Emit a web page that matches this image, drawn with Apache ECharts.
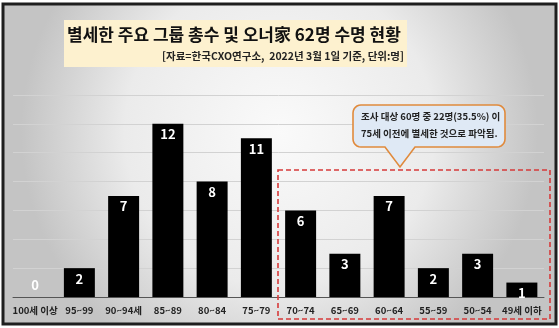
<!DOCTYPE html>
<html><head><meta charset="utf-8">
<script src="https://cdn.jsdelivr.net/npm/echarts@6/dist/echarts.min.js"></script>
<style>html,body{margin:0;padding:0;background:#fff}#c{width:559px;height:328px}</style>
</head><body><div id="c"></div>
<script>
const categories = ['100세 이상','95~99','90~94세','85~89','80~84','75~79','70~74','65~69','60~64','55~59','50~54','49세 이하'];
const counts = [0,2,7,12,8,11,6,3,7,2,3,1];
const yTicks = [0,2,4,6,8,10,12,14];
const titleText = '별세한 주요 그룹 총수 및 오너家 62명 수명 현황';
const subtitleText = '[자료=한국CXO연구소,  2022년 3월 1일 기준, 단위:명]';
const noteLines = ['조사 대상 60명 중 22명(35.5%) 이', '75세 이전에 별세한 것으로 파악됨.'];

const FONT = '"Noto Sans CJK KR", "Noto Sans", sans-serif';
const NARROW = '"Liberation Sans Narrow", "Noto Sans CJK KR", sans-serif';
const chart = echarts.init(document.getElementById('c'), null, {renderer:'canvas'});

// callout outline (rounded box with a downward pointer)
const bx0=353, by0=105, bx1=505, by1=147, r=8;
function arc(cx, cy, a0, a1) {
  const pts = [];
  for (let i = 0; i <= 6; i++) {
    const a = a0 + (a1 - a0) * i / 6;
    pts.push([cx + r * Math.cos(a), cy + r * Math.sin(a)]);
  }
  return pts;
}
const PI = Math.PI;
const calloutPts = [].concat(
  arc(bx0 + r, by0 + r, PI, 1.5 * PI),
  arc(bx1 - r, by0 + r, 1.5 * PI, 2 * PI),
  arc(bx1 - r, by1 - r, 0, 0.5 * PI),
  [[415, by1], [400, 167], [385, by1]],
  arc(bx0 + r, by1 - r, 0.5 * PI, PI)
);

chart.setOption({
  animation:false,
  backgroundColor:'#fff',
  graphic:[
    {type:'rect', z:-10, silent:true, shape:{x:3,y:4,width:553,height:320},
     style:{fill:new echarts.graphic.RadialGradient(0.5,0.4,0.8,[{offset:0,color:'#fafafa'},{offset:0.6,color:'#ebebeb'},{offset:1,color:'#c4c4c4'}]), stroke:'#1e1e1e', lineWidth:3}},
    {type:'rect', z:-5, silent:true, shape:{x:64,y:20,width:343,height:47}, style:{fill:'#fdf1cf'}},
    {type:'text', z:10, x:67, y:35, style:{text:titleText, font:'bold 17px '+FONT, fill:'#111', textAlign:'left', textVerticalAlign:'middle'}},
    {type:'text', z:10, x:404, y:56, style:{text:subtitleText, font:'bold 10.5px '+NARROW, fill:'#222', textAlign:'right', textVerticalAlign:'middle'}},
    {type:'rect', z:20, silent:true, shape:{x:278,y:170,width:272,height:149}, style:{fill:'none', stroke:'#d63a3a', lineWidth:1.6, lineDash:[5,3]}},
    {type:'polygon', z:30, silent:true, shape:{points:calloutPts}, style:{fill:'#dfe9f5', stroke:'#e08a3c', lineWidth:1.6}},
    {type:'text', z:31, x:361, y:116, style:{text:noteLines[0], font:'bold 9.5px '+NARROW, fill:'#222', textVerticalAlign:'middle'}},
    {type:'text', z:31, x:361, y:133, style:{text:noteLines[1], font:'bold 9.5px '+NARROW, fill:'#222', textVerticalAlign:'middle'}}
  ],
  grid:{left:13, right:15, top:95, bottom:31, containLabel:false},
  xAxis:{type:'category', data:categories,
    axisLine:{lineStyle:{color:'#555', width:1}}, axisTick:{show:false},
    axisLabel:{interval:0, color:'#222', fontFamily:NARROW, fontWeight:'bold', fontSize:9.5, margin:9}},
  yAxis:{type:'value', min:yTicks[0], max:yTicks[yTicks.length-1], interval:2,
    axisLabel:{show:false}, axisLine:{show:false}, axisTick:{show:false},
    splitLine:{lineStyle:{color:'#d2d2d2', width:1}}},
  series:[{type:'bar', barCategoryGap:'30%',
    data:counts.map(v => v===0 ? {value:v, label:{position:'top', distance:5}} : v),
    itemStyle:{color:'#000'},
    label:{show:true, position:'insideTop', distance:4, color:'#fff', fontFamily:FONT, fontWeight:'bold', fontSize:13}
  }]
});
</script></body></html>
